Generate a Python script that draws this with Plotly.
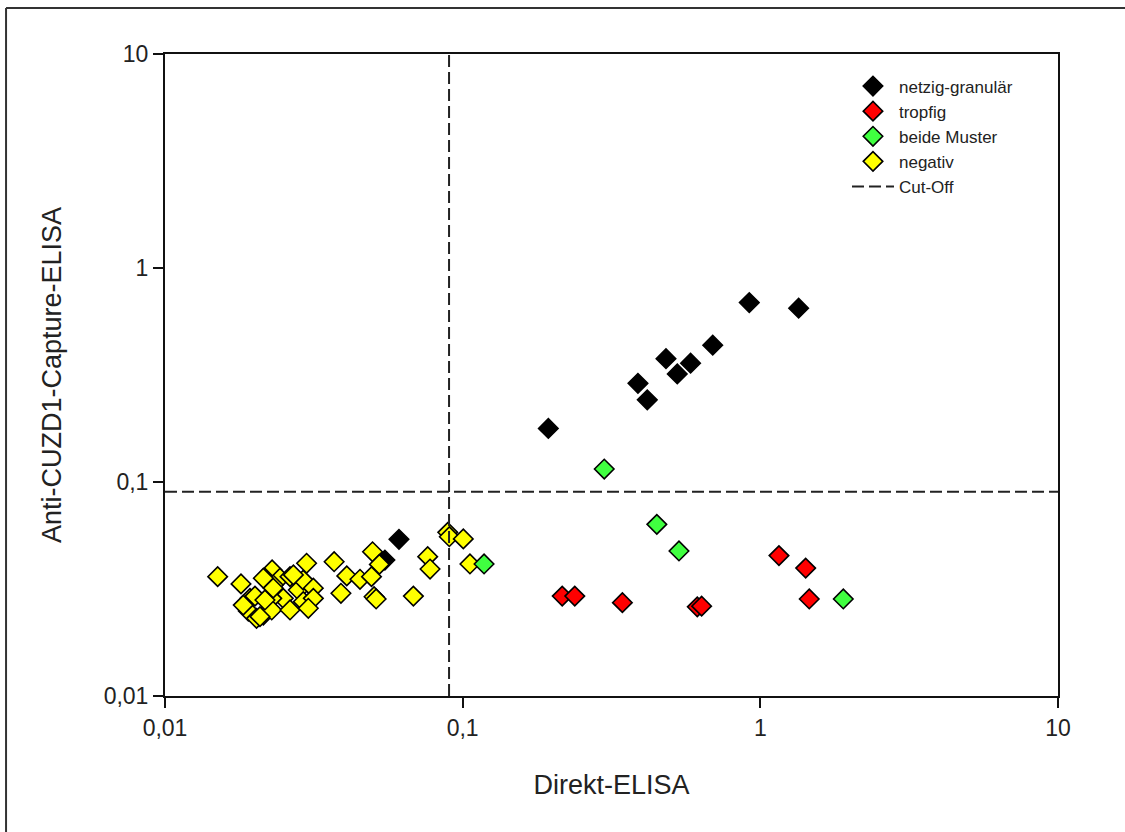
import plotly.graph_objects as go

# ---- data ----
netzig_x = [0.194, 0.388, 0.417, 0.482, 0.526, 0.583, 0.692, 0.918, 1.345, 0.0611, 0.0548]
netzig_y = [0.178, 0.289, 0.242, 0.377, 0.320, 0.359, 0.436, 0.689, 0.649, 0.054, 0.0432]

tropfig_x = [0.216, 0.238, 0.344, 0.614, 0.635, 1.155, 1.42, 1.46]
tropfig_y = [0.0293, 0.0293, 0.0273, 0.0261, 0.0263, 0.0453, 0.0396, 0.0284]

beide_x = [0.299, 0.118, 0.449, 0.533, 1.90]
beide_y = [0.115, 0.0414, 0.0634, 0.0476, 0.0284]

negativ_x = [0.01503, 0.0180, 0.0193, 0.02006, 0.01905, 0.0203, 0.0214, 0.0229, 0.02167,
             0.02434, 0.0263, 0.0231, 0.02496, 0.02283, 0.02283, 0.0263, 0.02804, 0.02914,
             0.0299, 0.0315, 0.02914, 0.0315, 0.0303, 0.0370, 0.0408, 0.0452, 0.0498,
             0.0525, 0.0494, 0.0390, 0.0504, 0.0512, 0.0683, 0.0763, 0.0777, 0.0891,
             0.0902, 0.1005, 0.1058, 0.0270, 0.02085, 0.01832, 0.02167, 0.0214, 0.0231]
negativ_y = [0.0361, 0.0334, 0.0286, 0.0293, 0.02495, 0.02307, 0.0239, 0.0388, 0.0355,
             0.0355, 0.0361, 0.0330, 0.0286, 0.0286, 0.02523, 0.02523, 0.0313, 0.0348,
             0.0417, 0.0319, 0.0276, 0.0286, 0.0257, 0.0424, 0.0364, 0.0351, 0.0472,
             0.0412, 0.0361, 0.0302, 0.0291, 0.0284, 0.0293, 0.0448, 0.0392, 0.0582,
             0.0555, 0.0542, 0.0414, 0.0368, 0.02348, 0.0266, 0.0281, 0.0355, 0.0319]

cutoff = 0.09
axis_min, axis_max = 0.01, 10

tick_vals = [0.01, 0.1, 1, 10]
tick_text = ["0,01", "0,1", "1", "10"]

FONT = "Liberation Sans, Arial, sans-serif"
TXT = "#222222"

def marker(color):
    return dict(symbol="diamond", size=15, color=color,
                line=dict(color="black", width=1.6))

fig = go.Figure()
fig.add_trace(go.Scatter(x=netzig_x, y=netzig_y, mode="markers", name="netzig-granulär",
                         marker=marker("black"), legendrank=1))
fig.add_trace(go.Scatter(x=negativ_x, y=negativ_y, mode="markers", name="negativ",
                         marker=marker("#FFFF00"), legendrank=4))
fig.add_trace(go.Scatter(x=tropfig_x, y=tropfig_y, mode="markers", name="tropfig",
                         marker=marker("#FF0000"), legendrank=2))
fig.add_trace(go.Scatter(x=beide_x, y=beide_y, mode="markers", name="beide Muster",
                         marker=marker("#40FF40"), legendrank=3))
fig.add_trace(go.Scatter(x=[cutoff, cutoff, None, axis_min, axis_max],
                         y=[axis_min, axis_max, None, cutoff, cutoff],
                         mode="lines", name="Cut-Off", legendrank=5,
                         line=dict(color="#222222", width=2, dash="12px,5px")))

axis_common = dict(type="log", showgrid=False, zeroline=False,
                   showline=True, linecolor="#111111", linewidth=2, mirror=True,
                   ticks="outside", ticklen=10, tickwidth=2, tickcolor="#111111",
                   tickvals=tick_vals, ticktext=tick_text,
                   tickfont=dict(family=FONT, size=23, color=TXT))

fig.update_layout(
    width=1125, height=832,
    margin=dict(l=165, r=67, t=54, b=136),
    paper_bgcolor="white", plot_bgcolor="white",
    font=dict(family=FONT, color=TXT),
    showlegend=True,
    legend=dict(x=0.7637, y=0.9774, xanchor="left", yanchor="top",
                bgcolor="rgba(0,0,0,0)", borderwidth=0, tracegroupgap=0,
                itemwidth=42,
                font=dict(family=FONT, size=17, color=TXT)),
    xaxis=dict(axis_common, range=[-2, 1],
               title=dict(text="Direkt-ELISA", font=dict(family=FONT, size=27, color=TXT),
                          standoff=36)),
    yaxis=dict(axis_common, range=[-2, 1],
               title=dict(text="Anti-CUZD1-Capture-ELISA", font=dict(family=FONT, size=27, color=TXT),
                          standoff=34)),
    shapes=[
        dict(type="line", xref="paper", yref="paper", x0=-0.1780, x1=-0.1780, y0=-0.3, y1=1.0717,
             line=dict(color="#333333", width=2)),
        dict(type="line", xref="paper", yref="paper", x0=-0.1780, x1=1.2, y0=1.0717, y1=1.0717,
             line=dict(color="#333333", width=2)),
    ],
)

fig.write_html("out.html")
